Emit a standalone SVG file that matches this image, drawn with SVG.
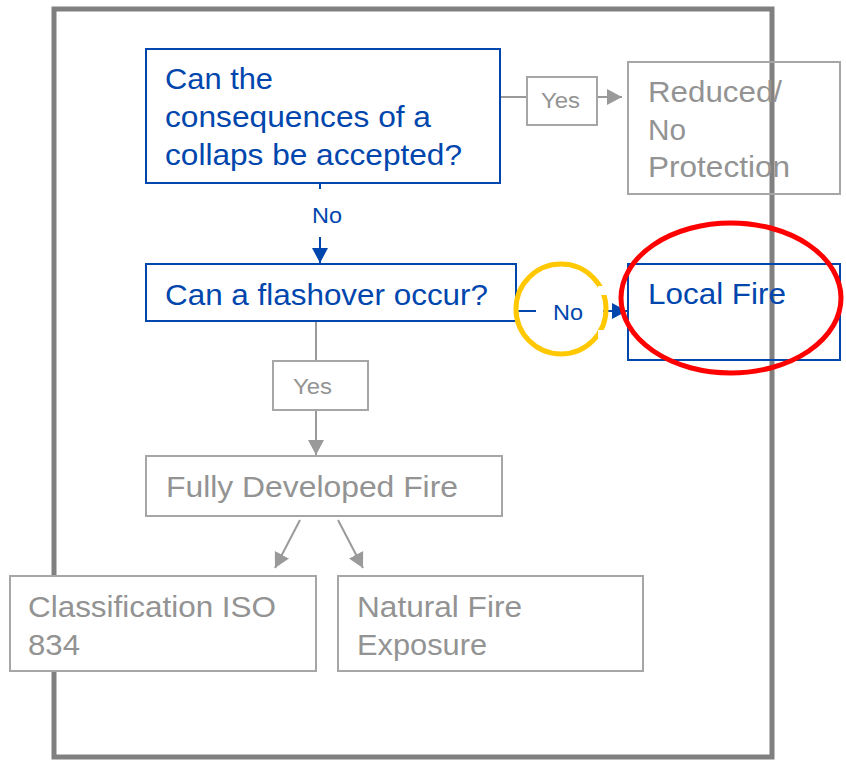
<svg xmlns="http://www.w3.org/2000/svg" width="846" height="764" viewBox="0 0 846 764">
<style>
.t{font-family:"Liberation Sans",Arial,sans-serif;font-size:30px}
.s{font-family:"Liberation Sans",Arial,sans-serif;font-size:22px}
.blue{fill:#0046AD}
.grey{fill:#939393}
.bb{fill:none;stroke:#0046AD;stroke-width:2}
.gb{fill:none;stroke:#A6A6A6;stroke-width:2}
.gw{fill:#fff;stroke:#A6A6A6;stroke-width:2}
.gl{stroke:#9A9A9A;stroke-width:2;fill:none}
.bl{stroke:#0046AD;stroke-width:2;fill:none}
</style>
<defs>
<marker id="ag" markerUnits="userSpaceOnUse" markerWidth="16" markerHeight="18" viewBox="0 0 16 18" refX="15" refY="9" orient="auto">
<path d="M0,1 L15,9 L0,17 Z" fill="#9A9A9A"/>
</marker>
<marker id="ab" markerUnits="userSpaceOnUse" markerWidth="16" markerHeight="18" viewBox="0 0 16 18" refX="15" refY="9" orient="auto">
<path d="M0,1 L15,9 L0,17 Z" fill="#0046AD"/>
</marker>
</defs>
<rect width="846" height="764" fill="#fff"/>
<rect id="frame" x="54" y="9" width="718" height="748" fill="none" stroke="#808080" stroke-width="5"/>
<g id="connectors">
<line class="gl" x1="500" y1="97" x2="527" y2="97"/>
<line class="gl" x1="597" y1="97" x2="622" y2="97" marker-end="url(#ag)"/>
<line class="bl" x1="320" y1="183" x2="320" y2="189"/>
<line class="bl" x1="320" y1="237" x2="320" y2="263" marker-end="url(#ab)"/>
<line class="bl" x1="516" y1="311" x2="536" y2="311"/>
<line class="bl" x1="603" y1="311" x2="627" y2="311" marker-end="url(#ab)"/>
<line class="gl" x1="316" y1="322" x2="316" y2="361"/>
<line class="gl" x1="316" y1="410" x2="316" y2="455" marker-end="url(#ag)"/>
<line class="gl" x1="300" y1="520" x2="275" y2="568" marker-end="url(#ag)"/>
<line class="gl" x1="338" y1="520" x2="363" y2="568" marker-end="url(#ag)"/>
<g id="lbl-yes1"><rect class="gw" x="527" y="77" width="70" height="48"/><text class="s grey" x="541" y="108" textLength="39" lengthAdjust="spacingAndGlyphs">Yes</text></g>
<g id="lbl-no1"><text class="s blue" x="312" y="223" textLength="30" lengthAdjust="spacingAndGlyphs">No</text></g>
<g id="lbl-no2"><text class="s blue" x="553" y="320" textLength="30" lengthAdjust="spacingAndGlyphs">No</text></g>
<g id="lbl-yes2"><rect class="gw" x="273" y="361" width="95" height="49"/><text class="s grey" x="293" y="394" textLength="39" lengthAdjust="spacingAndGlyphs">Yes</text></g>
</g>
<g id="q1"><rect class="bb" x="146" y="49" width="354" height="134"/>
<text class="t blue" x="165" y="89" textLength="108" lengthAdjust="spacingAndGlyphs">Can the</text>
<text class="t blue" x="165" y="127" textLength="266" lengthAdjust="spacingAndGlyphs">consequences of a</text>
<text class="t blue" x="165" y="165" textLength="297" lengthAdjust="spacingAndGlyphs">collaps be accepted?</text></g>
<g id="reduced"><rect class="gb" x="628" y="62" width="212" height="132"/>
<text class="t grey" x="648" y="102" textLength="134" lengthAdjust="spacingAndGlyphs">Reduced/</text>
<text class="t grey" x="648" y="140" textLength="38" lengthAdjust="spacingAndGlyphs">No</text>
<text class="t grey" x="648" y="177" textLength="142" lengthAdjust="spacingAndGlyphs">Protection</text></g>
<g id="q2"><rect class="bb" x="146" y="264" width="370" height="57"/>
<text class="t blue" x="165" y="305" textLength="323" lengthAdjust="spacingAndGlyphs">Can a flashover occur?</text></g>
<g id="local"><rect class="bb" x="628" y="264" width="212" height="96"/>
<text class="t blue" x="648" y="304" textLength="138" lengthAdjust="spacingAndGlyphs">Local Fire</text></g>
<g id="fully"><rect class="gw" x="146" y="456" width="356" height="60"/>
<text class="t grey" x="166" y="497" textLength="292" lengthAdjust="spacingAndGlyphs">Fully Developed Fire</text></g>
<g id="iso"><rect class="gw" x="10" y="576" width="306" height="95"/>
<text class="t grey" x="28" y="617" textLength="248" lengthAdjust="spacingAndGlyphs">Classification ISO</text>
<text class="t grey" x="28" y="655" textLength="52" lengthAdjust="spacingAndGlyphs">834</text></g>
<g id="natural"><rect class="gw" x="338" y="576" width="305" height="95"/>
<text class="t grey" x="357" y="617" textLength="165" lengthAdjust="spacingAndGlyphs">Natural Fire</text>
<text class="t grey" x="357" y="655" textLength="130" lengthAdjust="spacingAndGlyphs">Exposure</text></g>
<g id="highlight">
<circle cx="561" cy="309" r="45" fill="none" stroke="#FFC800" stroke-width="5"/>
<rect x="598" y="286" width="10" height="9" fill="#fff"/>
<rect x="598" y="330" width="10" height="8" fill="#fff"/>
<ellipse cx="731" cy="298" rx="110" ry="75" fill="none" stroke="#FF0000" stroke-width="5"/>
</g>
</svg>
